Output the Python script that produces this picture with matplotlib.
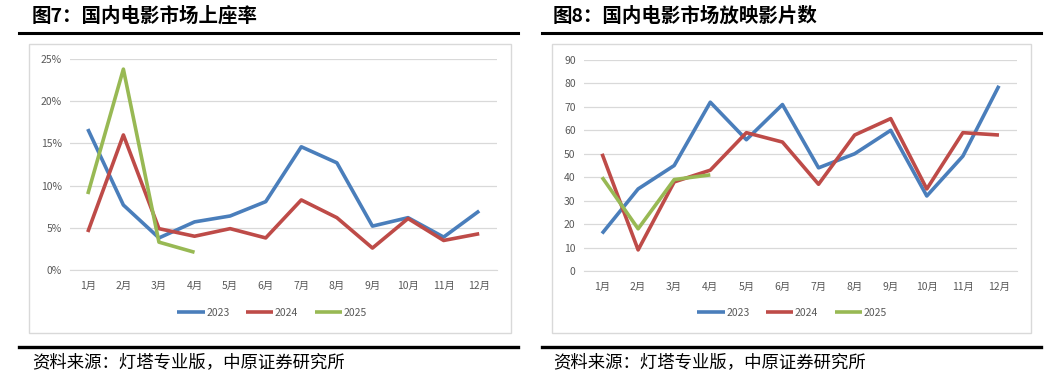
import matplotlib
matplotlib.use('Agg')
import matplotlib.pyplot as plt
from matplotlib.lines import Line2D
from matplotlib.patches import Rectangle
from matplotlib.ticker import FuncFormatter

plt.rcParams['font.family'] = ['Noto Sans CJK SC', 'DejaVu Sans']

months = ['1月', '2月', '3月', '4月', '5月', '6月', '7月', '8月', '9月', '10月', '11月', '12月']
years = ['2023', '2024', '2025']
colors = ['#4A7EBB', '#BE4B48', '#98B954']

# 上座率 (%)
occ_2023 = [16.7, 7.7, 3.8, 5.7, 6.4, 8.1, 14.6, 12.7, 5.2, 6.2, 3.9, 7.0]
occ_2024 = [4.5, 16.0, 4.9, 4.0, 4.9, 3.8, 8.3, 6.2, 2.6, 6.1, 3.5, 4.3]
occ_2025 = [9.0, 23.8, 3.3, 2.1]

# 放映影片数
films_2023 = [16, 35, 45, 72, 56, 71, 44, 50, 60, 32, 49, 79]
films_2024 = [50, 9, 38, 43, 59, 55, 37, 58, 65, 35, 59, 58]
films_2025 = [40, 18, 39, 41]

W, H = 1060, 379
fig = plt.figure(figsize=(W / 100, H / 100), dpi=100)


def fx(px):
    return px / W


def fy(py):
    return 1 - py / H


def panel(x0, x1, bx0, bx1, title, tx):
    # title, rules, chart frame, source
    fig.text(fx(tx), fy(16), title, fontsize=14, fontweight='bold', va='center', ha='left')
    fig.add_artist(Line2D([fx(x0), fx(x1)], [fy(32.5), fy(32.5)], color='black', lw=2.2))
    fig.add_artist(Line2D([fx(x0), fx(x1)], [fy(347), fy(347)], color='black', lw=2.4))
    fig.add_artist(Rectangle((fx(bx0), fy(333)), fx(bx1) - fx(bx0), fy(44) - fy(333),
                             fill=False, ec='#D9D9D9', lw=1.0))
    fig.text(fx(tx), fy(362), '资料来源：灯塔专业版，中原证券研究所', fontsize=12.5,
             va='center', ha='left')


def draw(ax, series, ymax, step, fmt):
    x = list(range(len(months)))
    for vals, c, lab in zip(series, colors, years):
        ax.plot(x[:len(vals)], vals, color=c, lw=2.6, label=lab, solid_capstyle='butt')
    ax.set_xlim(-0.5, len(months) - 0.5)
    ax.set_ylim(0, ymax)
    ax.set_yticks([i * step for i in range(int(round(ymax / step)) + 1)])
    ax.yaxis.set_major_formatter(FuncFormatter(fmt))
    ax.set_xticks(x)
    ax.set_xticklabels(months)
    ax.grid(axis='y', color='#D9D9D9', lw=0.9)
    ax.set_axisbelow(True)
    for s in ['top', 'right', 'left']:
        ax.spines[s].set_visible(False)
    ax.spines['bottom'].set_color('#D9D9D9')
    ax.tick_params(axis='both', length=0, labelsize=7.5, labelcolor='#595959')
    ax.tick_params(axis='x', pad=8)
    ax.tick_params(axis='y', pad=6)


panel(19, 518, 29, 511, '图7：国内电影市场上座率', 32)
panel(542, 1041, 552, 1031, '图8：国内电影市场放映影片数', 553)

ax1 = fig.add_axes([fx(70), fy(270), fx(497) - fx(70), fy(59) - fy(270)])
draw(ax1, [occ_2023, occ_2024, occ_2025], 25, 5, lambda v, p: '%d%%' % v)

ax2 = fig.add_axes([fx(584), fy(271), fx(1017) - fx(584), fy(60) - fy(271)])
draw(ax2, [films_2023, films_2024, films_2025], 90, 10, lambda v, p: '%d' % v)

for ax, cx in [(ax1, 272), (ax2, 792)]:
    h, l = ax.get_legend_handles_labels()
    fig.legend(h, l, loc='center', bbox_to_anchor=(fx(cx), fy(313)), ncol=3, frameon=False,
               fontsize=7.5, handlelength=2.6, handletextpad=0.15, columnspacing=1.6,
               labelcolor='#595959')

fig.savefig('out.png', dpi=100)
